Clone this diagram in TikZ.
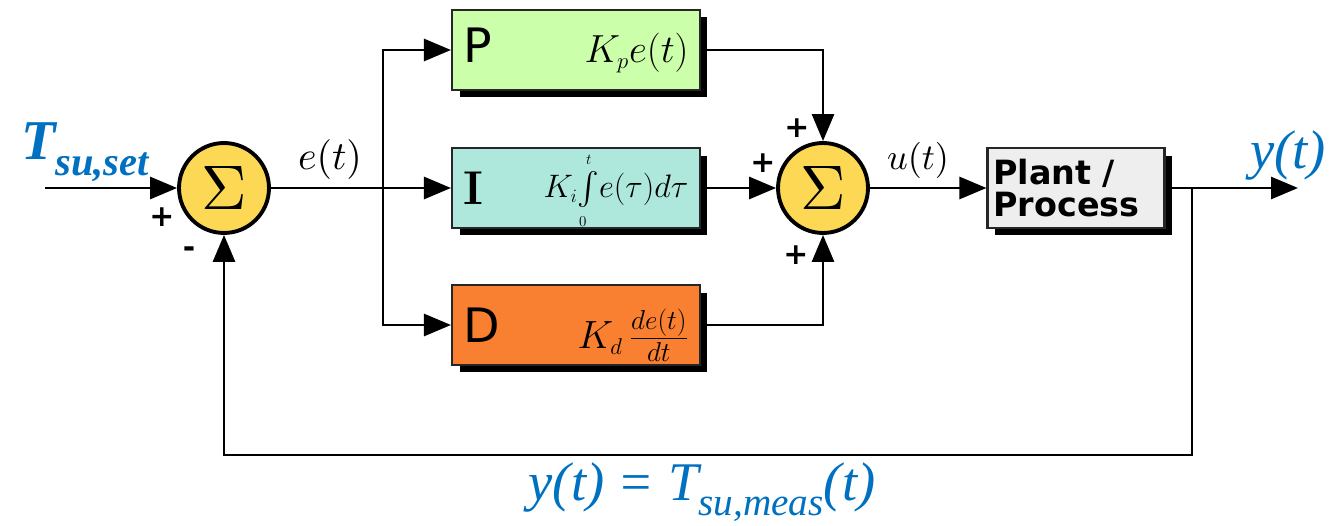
\documentclass[tikz,border=0pt]{standalone}
\usepackage{fontspec}
\usepackage{amsmath}
\usetikzlibrary{positioning, shadows, arrows.meta}
\newfontfamily\blocksans{DejaVu Sans}
\newfontfamily\bluefont{Liberation Serif}
\definecolor{pgreen}{RGB}{204,255,170}
\definecolor{iteal}{RGB}{174,232,220}
\definecolor{dorange}{RGB}{248,128,48}
\definecolor{sumyellow}{RGB}{252,216,85}
\definecolor{plantgray}{RGB}{238,238,238}
\definecolor{labelblue}{RGB}{0,112,192}
\newcommand{\lowsub}[1]{\raisebox{-0.28em}{\scalebox{0.72}{#1}}}
\newcommand{\tinylim}[1]{\scalebox{0.8}{$\scriptscriptstyle #1$}}

\begin{document}
\begin{tikzpicture}[x=0.02cm, y=-0.02cm,
  line width=1.6pt,
  >={Triangle[length=0.54cm, width=0.44cm]},
  block/.style={draw=black!85, line width=1.2pt, minimum height=1.6cm,
    text width=4.5cm, inner xsep=0.23cm,
    drop shadow={shadow xshift=0.15cm, shadow yshift=-0.15cm, fill=black, opacity=1}},
  sumnode/.style={circle, draw, line width=2.2pt, fill=sumyellow,
    minimum size=1.8cm, inner sep=0pt},
  sign/.style={font=\blocksans\bfseries\fontsize{17}{17}\selectfont, inner sep=0pt},
  sig/.style={inner sep=1pt},
  bluelabel/.style={text=labelblue, font=\bluefont\itshape\fontsize{31}{33}\selectfont}]

\useasboundingbox (0,0) rectangle (1338,526);

% Summing junctions
\node[sumnode] (sumA) at (224,188) {\resizebox{!}{0.86cm}{$\Sigma$}};
\node[sumnode] (sumB) at (823,188) {\resizebox{!}{0.86cm}{$\Sigma$}};

% P, I and D blocks
\node[block, fill=pgreen] (P) at (576,50)
  {\blocksans\fontsize{27}{27}\selectfont P\hfill\resizebox{2.08cm}{!}{$K_{\scriptscriptstyle p}e(t)$}};
\node[block, fill=iteal] (I) at (576,188)
  {\fontsize{27}{27}\selectfont\textbf{I}\hfill\smash{\raisebox{0.14cm}{\resizebox{2.9cm}{!}{$K_{\scriptscriptstyle i}\!\int\limits_{\tinylim{0}}^{\tinylim{t}}\!e(\tau)d\tau$}}}};
\node[block, fill=dorange] (D) at (576,325)
  {\blocksans\fontsize{27}{27}\selectfont D\hfill\smash{\raisebox{-0.12cm}{\resizebox{2.22cm}{!}{$K_{\scriptscriptstyle d}\,\frac{de(t)}{dt}$}}}};

% Plant
\node[block, fill=plantgray, text width=3.3cm, inner xsep=0.12cm, align=left,
  font=\blocksans\bfseries\fontsize{19}{18}\selectfont] (plant) at (1076,188)
  {Plant /\\Process};

% Free ends and branch points
\coordinate (in) at (45,188);
\coordinate (br) at (383,188);
\coordinate (fb) at (1192,188);
\coordinate (out) at (1298,188);
\coordinate (fbcorner) at (1192,455);

% Connectors
\draw[->] (in) -- (sumA);
\draw[->] (sumA) -- (I);
\draw[->] (br) |- (P);
\draw[->] (br) |- (D);
\draw[->] (P) -| (sumB);
\draw[->] (I) -- (sumB);
\draw[->] (D) -| (sumB);
\draw[->] (sumB) -- (plant);
\draw[->] (plant) -- (out);
\draw[->] (fb) -- (fbcorner) -| (sumA);

% Signs
\node[sign] (plusA) at (162,217) {+};
\node[sign] (minusA) at (189,252) {-};
\node[sign] (plusB1) at (797,128) {+};
\node[sign] (plusB2) at (763,163) {+};
\node[sign] (plusB3) at (796,255) {+};

% Signal labels
\node[sig] (elabel) at (330,160) {\resizebox{1.28cm}{!}{$e(t)$}};
\node[sig] (ulabel) at (918,160) {\resizebox{1.24cm}{!}{$u(t)$}};
\node[bluelabel, font=\bluefont\bfseries\itshape\fontsize{32}{34}\selectfont] (setlabel) at (85,152)
  {T\lowsub{su,set}};
\node[bluelabel] (ylabel) at (1288,155) {y(t)};
\node[bluelabel] (measlabel) at (702,492) {y(t) = T\lowsub{su,meas}(t)};
\end{tikzpicture}
\end{document}
